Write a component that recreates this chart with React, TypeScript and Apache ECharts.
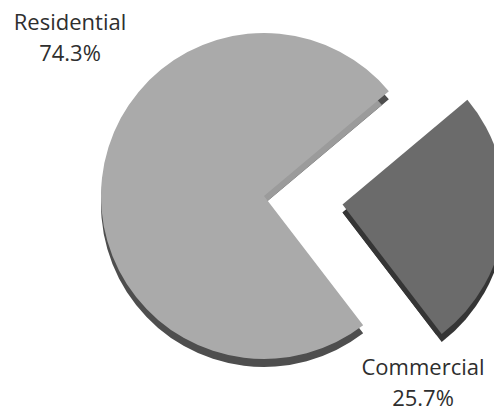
import React, { useEffect, useRef } from "react";
import * as echarts from "echarts";

const categories = ["Commercial", "Residential"];
const shares = [25.7, 74.3];
const topColors = ["#6b6b6b", "#aaaaaa"];
const rimColors = ["#353535", "#4e4e4e"];
const cutColors = ["#353535", "#9b9b9b"];

const CX = 264;
const CY = 196;
const R = 163;
const DEPTH = 8;
const OFFSET = 79;
const labelPos = [
  [423, 381],
  [70, 36],
];

function makeData(colors: string[]) {
  return categories.map((name, i) => ({
    name,
    value: shares[i],
    selected: name === "Commercial",
    itemStyle: { color: colors[i] },
  }));
}

export default function App() {
  const ref = useRef<HTMLDivElement>(null);
  useEffect(() => {
    if (!ref.current) return;
    const chart = echarts.init(ref.current, undefined, { renderer: "svg" });
    const base = {
      type: "pie",
      startAngle: 40,
      clockwise: true,
      selectedMode: "single",
      selectedOffset: OFFSET,
      avoidLabelOverlap: false,
      emphasis: { disabled: true },
      label: { show: false },
      labelLine: { show: false },
    } as any;
    chart.setOption({
      animation: false,
      series: [
        {
          ...base,
          silent: true,
          center: [CX, CY + DEPTH],
          radius: [0, R],
          data: makeData(rimColors),
          z: 1,
        },
        {
          ...base,
          silent: true,
          center: [CX, CY + DEPTH],
          radius: [0, R - DEPTH - 1],
          data: makeData(cutColors),
          z: 2,
        },
        {
          ...base,
          center: [CX, CY],
          radius: [0, R],
          z: 3,
          data: makeData(topColors),
        },
      ],
      graphic: categories.map((name, i) => ({
        type: "text",
        x: labelPos[i][0],
        y: labelPos[i][1],
        z: 10,
        style: {
          text: `${name}\n${shares[i]}%`,
          fontFamily: "Open Sans",
          fontSize: 22,
          lineHeight: 31,
          fill: "#2e2e2e",
          align: "center",
          verticalAlign: "middle",
        },
      })),
    });
    return () => chart.dispose();
  }, []);
  return (
    <div
      ref={ref}
      style={{ position: "absolute", left: 0, top: 0, width: 494, height: 411 }}
    />
  );
}
